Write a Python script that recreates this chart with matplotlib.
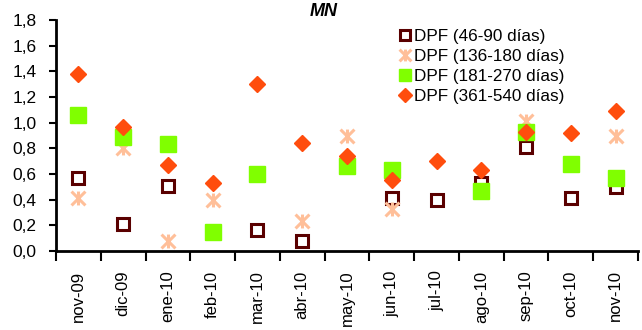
import numpy as np
import matplotlib
matplotlib.use("Agg")
import matplotlib.pyplot as plt
from matplotlib.path import Path

plt.rcParams['font.family'] = ['Liberation Sans', 'DejaVu Sans']

months = ["nov-09", "dic-09", "ene-10", "feb-10", "mar-10", "abr-10",
          "may-10", "jun-10", "jul-10", "ago-10", "sep-10", "oct-10", "nov-10"]
nan = np.nan
dpf_46_90 = [0.57, 0.21, 0.51, nan, 0.16, 0.08, nan, 0.41, 0.40, 0.53, 0.81, 0.41, 0.50]
dpf_136_180 = [0.41, 0.80, 0.08, 0.40, nan, 0.23, 0.90, 0.33, nan, nan, 1.01, nan, 0.90]
dpf_181_270 = [1.06, 0.89, 0.83, 0.15, 0.60, nan, 0.66, 0.63, nan, 0.47, 0.93, 0.68, 0.57]
dpf_361_540 = [1.38, 0.97, 0.67, 0.53, 1.30, 0.84, 0.74, 0.55, 0.70, 0.63, 0.93, 0.92, 1.09]

# Excel-like star marker: an X plus a vertical bar
star = Path([(-1, -1), (1, 1), (-1, 1), (1, -1), (0, -1), (0, 1)],
            [Path.MOVETO, Path.LINETO, Path.MOVETO, Path.LINETO, Path.MOVETO, Path.LINETO])

fig = plt.figure(figsize=(6.42, 3.30), dpi=100)
ax = fig.add_axes([56 / 642, 1 - 251 / 330, 582 / 642, 231 / 330])

x = np.arange(len(months))
ax.plot(x, dpf_46_90, ls='none', marker='s', ms=8, mfc='white', mec='#5a0000', mew=2.2,
        label="DPF (46-90 días)")
ax.plot(x, dpf_136_180, ls='none', marker=star, ms=10, mfc='none', mec='#ffbf99', mew=2.2,
        label="DPF (136-180 días)")
ax.plot(x, dpf_181_270, ls='none', marker='s', ms=11, color='#80ff00', mec='#80ff00',
        label="DPF (181-270 días)")
ax.plot(x, dpf_361_540, ls='none', marker='D', ms=8, color='#ff4d0d', mec='#ff4d0d',
        label="DPF (361-540 días)")

ax.set_xlim(-0.5, len(months) - 0.5)
ax.set_ylim(0, 1.8)
ax.set_yticks(np.arange(0, 1.81, 0.2))
ax.set_yticklabels([f"{v:.1f}".replace('.', ',') for v in np.arange(0, 1.81, 0.2)])
ax.set_xticks(x)
ax.set_xticklabels(months, rotation=90)
ax.set_xticks(np.arange(-0.5, len(months), 1), minor=True)
ax.tick_params(axis='x', which='major', length=0, pad=14, labelsize=12)
ax.tick_params(axis='x', which='minor', length=7, width=1.5, direction='out')
ax.tick_params(axis='y', length=5, width=1.5, direction='out', labelsize=12.5, pad=9)

for s in ['top', 'right']:
    ax.spines[s].set_visible(False)
for s in ['left', 'bottom']:
    ax.spines[s].set_linewidth(2)

ax.set_title("MN", fontsize=13, fontweight='bold', style='italic', pad=-4, x=0.46)

leg = ax.legend(loc='upper left', bbox_to_anchor=(0.578, 1.0), frameon=False, fontsize=12.3,
                handlelength=0.5, handletextpad=0.25, labelspacing=0.3, borderpad=0,
                markerscale=0.85)

fig.savefig("out.png", dpi=100)
